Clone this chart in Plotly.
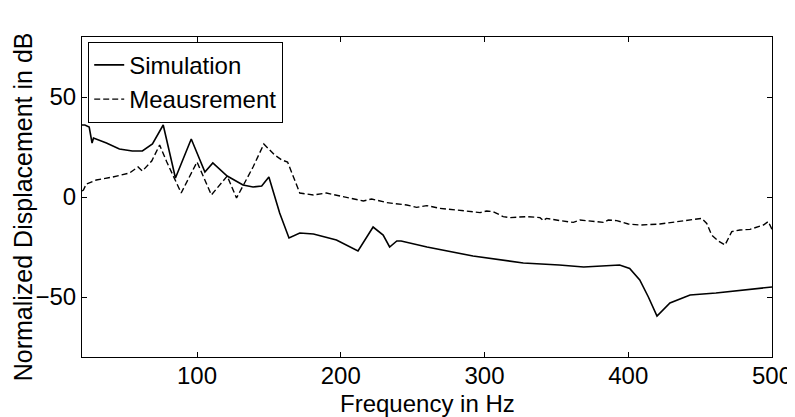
import plotly.graph_objects as go

# Simulation curve (frequency in Hz, level in dB)
sim_freq = [20, 22, 25, 27, 28, 37, 46, 55, 62, 69, 76.5, 85, 96, 105.5, 111, 121,
            132, 139, 145, 150, 157.5, 164, 171.5, 181, 197, 206, 212, 222.5, 229.5,
            234, 239, 242, 260, 292, 327, 352, 369, 394, 401, 408, 414, 420, 429,
            443, 461, 500]
sim_db = [36, 36, 35, 27, 29.5, 27, 24, 23, 23, 26.5, 36, 9.5, 29, 12.5, 17, 10.5,
          6, 5, 5.5, 10, -8, -20.5, -18, -18.5, -21.5, -25, -27, -15, -19,
          -25, -22, -22, -25, -29.5, -33, -34, -35, -34, -35.7, -41.5, -50, -59.5, -53,
          -49, -48, -45]

# Measurement curve
meas_freq = [20, 21, 23, 30, 41.5, 53, 59, 62, 68.5, 74, 79, 89, 100, 110, 121, 127.5,
             139, 146.5, 154, 159, 163, 171.5, 181, 190, 199.5, 206.4, 215.7, 221.5,
             232, 245.9, 252.8, 259.8, 269, 280.7, 287.6, 296.9, 301.5, 306, 313,
             317.7, 329.4, 338.6, 341, 343, 352.5, 361.8, 366.4, 375.7, 382.7, 386.1,
             392, 400, 408.2, 422, 436, 443, 451, 454.6, 458, 462.7, 467.3, 472,
             477.7, 484.7, 494, 497.4, 500]
meas_db = [3, 3.5, 6.5, 8.5, 10, 12, 15, 13, 18, 26, 17.5, 2, 17.5, 1, 10.5, -0.5,
           15, 26.5, 21, 18.5, 17.5, 2, 1, 2, 0.5, -0.7, -2, -1,
           -2.8, -4, -5.2, -4.3, -5.7, -6.5, -7, -7.8, -7, -7.3, -9.8,
           -10.3, -9.8, -10.3, -11.8, -10.7, -11.8, -12.7, -11.5, -12.3, -12.7, -11.5,
           -11.8, -13.5, -14, -13.5, -12.3, -11.5, -10.7, -13.2, -19, -22, -24, -17.3,
           -16.5, -16.2, -14, -12.3, -16.2]

x_ticks = [100, 200, 300, 400, 500]
y_ticks = [-50, 0, 50]

family = 'Liberation Sans, Arial, sans-serif'
tick_font = dict(family=family, size=24, color='black')
title_font = dict(family=family, size=25, color='black')
xtitle_font = dict(family=family, size=24, color='black')
legend_font = dict(family=family, size=24, color='black')

fig = go.Figure()
fig.add_trace(go.Scatter(x=sim_freq, y=sim_db, mode='lines', name='Simulation',
                         line=dict(color='black', width=1.6)))
fig.add_trace(go.Scatter(x=meas_freq, y=meas_db, mode='lines', name='Meausrement',
                         line=dict(color='black', width=1.4, dash='6px,3px')))

axis_common = dict(showline=True, linecolor='black', linewidth=1.2, mirror='ticks',
                   ticks='inside', ticklen=5, tickcolor='black', showgrid=False,
                   zeroline=False, tickfont=tick_font, automargin=False)

# page body has an 8px margin, so the figure is a bit smaller than the window
fig.update_layout(
    width=787, height=409,
    margin=dict(l=74, r=23, t=29, b=60),
    paper_bgcolor='white', plot_bgcolor='white',
    font=tick_font,
    xaxis=dict(range=[20, 500], tickvals=x_ticks, ticklabelstandoff=-3, **axis_common),
    yaxis=dict(range=[-80, 80], tickvals=y_ticks, **axis_common),
    legend=dict(x=0.009, y=0.985, xanchor='left', yanchor='top', bgcolor='white',
                bordercolor='black', borderwidth=1, font=legend_font, tracegroupgap=0),
    showlegend=True,
)

# axis titles
fig.add_annotation(text='Frequency in Hz', xref='paper', yref='paper', x=0.5, y=-0.146,
                   xanchor='center', yanchor='middle', showarrow=False, font=xtitle_font)
fig.add_annotation(text='Normalized Displacement in dB', xref='paper', yref='paper',
                   x=-0.086, y=0.47, xanchor='center', yanchor='middle', textangle=-90,
                   showarrow=False, font=title_font)

fig.write_html("out.html")
